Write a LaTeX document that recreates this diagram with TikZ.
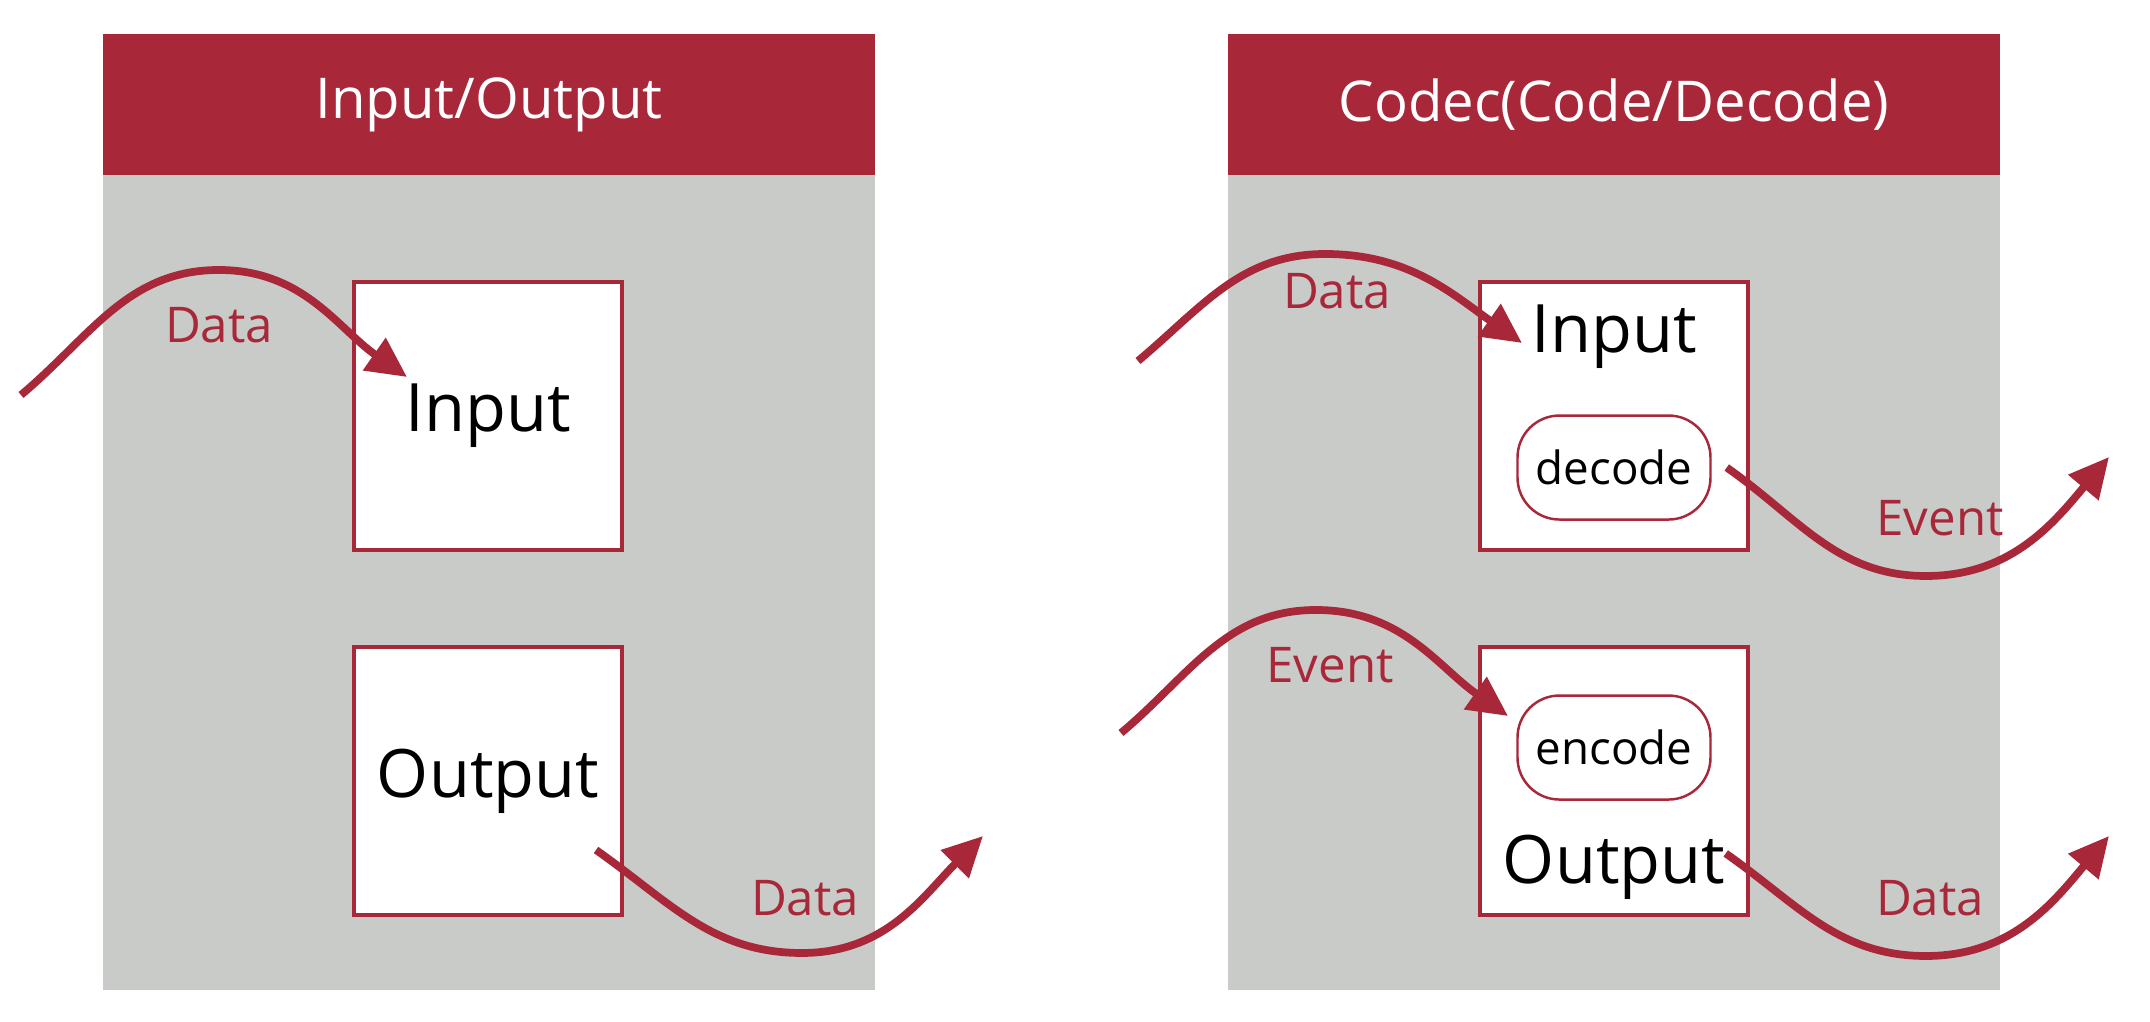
\documentclass[tikz,border=0pt]{standalone}
\usepackage{fontspec}
\setmainfont{Open Sans}
\usetikzlibrary{arrows.meta,positioning}
\definecolor{ioRed}{RGB}{168,39,57}
\definecolor{ioGray}{RGB}{201,203,200}
\tikzstyle{flow} = [line width=2.2pt, color=ioRed, -{Triangle[length=4mm,width=3.8mm]}]
\tikzstyle{panel} = [rectangle, fill=ioGray, minimum width=7.72cm, minimum height=9.56cm, inner sep=0pt]
\tikzstyle{header} = [rectangle, fill=ioRed, text=white, minimum width=7.72cm, minimum height=1.41cm, inner sep=0pt, font=\fontsize{16}{19}\selectfont]
\tikzstyle{block} = [rectangle, draw=ioRed, fill=white, line width=1.4pt, minimum width=2.68cm, minimum height=2.68cm, inner sep=0pt, font=\fontsize{19}{22}\selectfont]
\tikzstyle{blocktext} = [inner sep=0pt, font=\fontsize{19}{22}\selectfont]
\tikzstyle{codec} = [rectangle, rounded corners=0.42cm, draw=ioRed, fill=white, line width=0.7pt, minimum width=1.93cm, minimum height=1.04cm, font=\fontsize{13}{16}\selectfont]
\tikzstyle{flowlabel} = [text=ioRed, inner sep=0pt, font=\fontsize{14}{17}\selectfont]

\begin{document}
\begin{tikzpicture}
    \useasboundingbox (0,0) rectangle (21.5,10.22);

    % Panel 1: Input/Output
    \node[panel] (p1) at (4.89,5.10) {};
    \node[header] (h1) at (4.89,9.175) {Input/Output};
    \node[block] (in1) at (4.88,6.06) {Input};
    \node[block] (out1) at (4.88,2.41) {Output};
    \coordinate (d1s) at (0.21,6.27);
    \coordinate (d1p) at (2.19,7.52);
    \coordinate (d1e) at (4.07,6.45);
    \draw[flow] (d1s) to[out=40,in=180] (d1p) to[out=0,in=145] (d1e);
    \node[flowlabel] at (2.19,6.97) {Data};
    \coordinate (d2s) at (5.96,1.72);
    \coordinate (d2t) at (8.02,0.69);
    \coordinate (d2e) at (9.83,1.86);
    \draw[flow] (d2s) to[out=-35,in=180] (d2t) to[out=0,in=-135] (d2e);
    \node[flowlabel] at (8.05,1.24) {Data};

    % Panel 2: Codec
    \node[panel] (p2) at (16.14,5.10) {};
    \node[header] (h2) at (16.14,9.175) {Codec(Code/Decode)};
    \node[block] (in2) at (16.14,6.06) {};
    \node[blocktext] (in2txt) at ([yshift=-0.57cm]in2.north) {Input};
    \node[codec] (dec) at ([yshift=-1.88cm]in2.north) {decode};
    \node[block] (out2) at (16.14,2.41) {};
    \node[codec] (enc) at ([yshift=-1.03cm]out2.north) {encode};
    \node[blocktext] (out2txt) at ([yshift=0.5cm]out2.south) {Output};

    \coordinate (d3s) at (11.38,6.61);
    \coordinate (d3p) at (13.25,7.68);
    \coordinate (d3e) at (15.22,6.79);
    \draw[flow] (d3s) to[out=40,in=180] (d3p) to[out=0,in=145] (d3e);
    \node[flowlabel] at (13.37,7.31) {Data};

    \coordinate (e1t) at (19.26,4.46);
    \coordinate (e1e) at (21.09,5.65);
    \draw[flow] ([xshift=0.15cm]dec.east) to[out=-35,in=180] (e1t) to[out=0,in=-130] (e1e);
    \node[flowlabel] at (19.40,5.04) {Event};

    \coordinate (e2s) at (11.21,2.89);
    \coordinate (e2p) at (13.16,4.12);
    \coordinate (e2e) at (15.08,3.06);
    \draw[flow] (e2s) to[out=40,in=180] (e2p) to[out=0,in=145] (e2e);
    \node[flowlabel] at (13.30,3.57) {Event};

    \coordinate (d4t) at (19.26,0.66);
    \coordinate (d4e) at (21.09,1.86);
    \draw[flow] ([yshift=0.14cm]out2txt.east) to[out=-35,in=180] (d4t) to[out=0,in=-130] (d4e);
    \node[flowlabel] at (19.30,1.24) {Data};
\end{tikzpicture}
\end{document}
